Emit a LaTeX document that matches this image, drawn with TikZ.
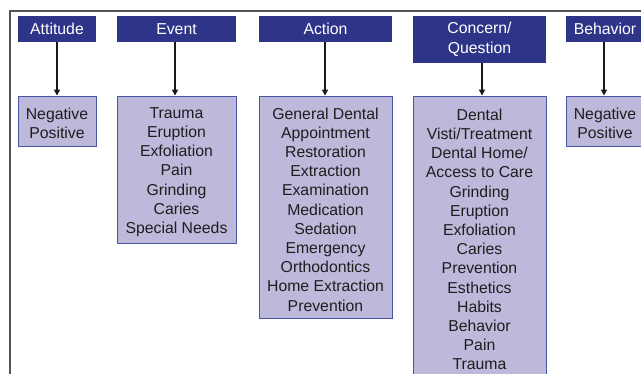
\documentclass[tikz,border=0pt]{standalone}
\usepackage{fontspec}
\setmainfont{Liberation Sans}
\usetikzlibrary{arrows.meta}
\definecolor{hdrblue}{HTML}{2E3589}
\definecolor{boxfill}{HTML}{BCB9DB}
\definecolor{boxline}{HTML}{4A55A8}
\definecolor{txtgray}{HTML}{1E1E1E}
\definecolor{framegray}{HTML}{555555}
\begin{document}
\begin{tikzpicture}[x=1pt,y=-1pt,
  hdr/.style={fill=hdrblue,text=white,inner sep=0pt,align=center,
    font=\fontsize{15.8}{19.8}\selectfont},
  catbox/.style={fill=boxfill,draw=boxline,line width=0.9pt,inner sep=0pt},
  cattext/.style={text=txtgray,inner sep=0pt,align=center,yshift=-2.5pt,
    font=\fontsize{15.8}{19.2}\selectfont},
  link/.style={line width=1.7pt,black!90,-{Triangle[length=6pt,width=6pt]}}]
\useasboundingbox (0,0) rectangle (641,373);
\clip (0,0) rectangle (641,373);
% frame
\draw[framegray,line width=1.6pt] (10,380) -- (10,11) -- (650,11);
% headers
\node[hdr,minimum width=78pt,minimum height=26pt] (att) at (57,29) {Attitude};
\node[hdr,minimum width=119pt,minimum height=26pt] (evt) at (176.5,29) {Event};
\node[hdr,minimum width=133pt,minimum height=26pt] (act) at (325.5,29) {Action};
\node[hdr,minimum width=133pt,minimum height=47pt] (con) at (479.5,39.5) {Concern/\\Question};
\node[hdr,minimum width=78pt,minimum height=26pt] (beh) at (605,29) {Behavior};
% boxes
\node[catbox,minimum width=78pt,minimum height=50pt] (attb) at (57,121) {};
\node[catbox,minimum width=119pt,minimum height=147pt] (evtb) at (176.5,169.5) {};
\node[catbox,minimum width=133pt,minimum height=222pt] (actb) at (325.5,207) {};
\node[catbox,minimum width=133pt,minimum height=282pt] (conb) at (479.5,237) {};
\node[catbox,minimum width=78pt,minimum height=50pt] (behb) at (605,121) {};
% box texts
\node[cattext] (attt) at (attb.center) {Negative\\Positive};
\node[cattext] (evtt) at (evtb.center)
  {Trauma\\Eruption\\Exfoliation\\Pain\\Grinding\\Caries\\Special Needs};
\node[cattext] (actt) at (actb.center)
  {General Dental\\Appointment\\Restoration\\Extraction\\Examination\\Medication\\Sedation\\Emergency\\Orthodontics\\Home Extraction\\Prevention};
\node[cattext] (cont) at (conb.center)
  {Dental\\Visti/Treatment\\Dental Home/\\Access to Care\\Grinding\\Eruption\\Exfoliation\\Caries\\Prevention\\Esthetics\\Habits\\Behavior\\Pain\\Trauma};
\node[cattext] (beht) at (behb.center) {Negative\\Positive};
% arrows
\draw[link] (att.south) -- (attb.north);
\draw[link] ([xshift=-1.5pt]evt.south) -- ([xshift=-1.5pt]evtb.north);
\draw[link] ([xshift=-0.5pt]act.south) -- ([xshift=-0.5pt]actb.north);
\draw[link] ([xshift=2.5pt]con.south) -- ([xshift=2.5pt]conb.north);
\draw[link] ([xshift=-1pt]beh.south) -- ([xshift=-1pt]behb.north);
\end{tikzpicture}
\end{document}
